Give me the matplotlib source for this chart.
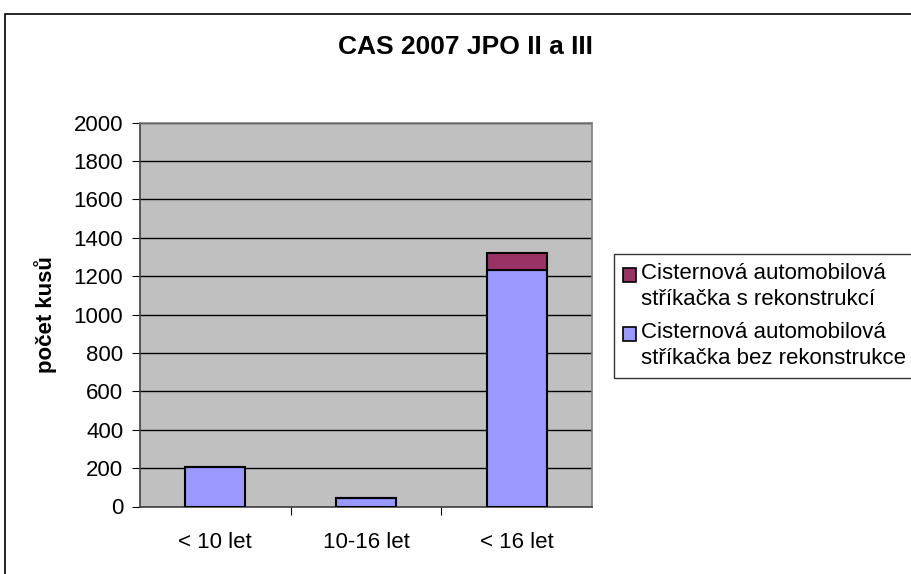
import matplotlib
matplotlib.use("Agg")
import matplotlib.pyplot as plt
from matplotlib.patches import Rectangle
import numpy as np

categories = ["< 10 let", "10-16 let", "< 16 let"]
bez_rekonstrukce = [205, 42, 1230]
s_rekonstrukci = [0, 0, 90]
series_labels = ["Cisternová automobilová\nstříkačka s rekonstrukcí",
                 "Cisternová automobilová\nstříkačka bez rekonstrukce"]
yticks = [0, 200, 400, 600, 800, 1000, 1200, 1400, 1600, 1800, 2000]
title = "CAS 2007 JPO II a III"
ylabel = "počet kusů"

plt.rcParams['font.family'] = ['Liberation Sans', 'DejaVu Sans']

fig = plt.figure(figsize=(9.12, 5.74), dpi=100)
# outer chart border
fig.patches.append(Rectangle((5/912, -0.1), 1.2, (574-14)/574 + 0.1,
                             transform=fig.transFigure, fill=False,
                             edgecolor='black', linewidth=1.2))

ax = fig.add_axes([140/912, (574-506.5)/574, 452/912, 383.8/574])
ax.set_facecolor('#C0C0C0')
x = np.arange(len(categories))
ax.bar(x, bez_rekonstrukce, width=0.4, color='#9999FF', edgecolor='black',
       linewidth=1.5, zorder=3, label=series_labels[1])
ax.bar(x, s_rekonstrukci, width=0.4, bottom=bez_rekonstrukce, color='#993366',
       edgecolor='black', linewidth=1.5, zorder=3, label=series_labels[0])

ax.set_xlim(-0.5, 2.5)
ax.set_ylim(0, 2000)
ax.set_yticks(yticks)
ax.set_yticklabels([str(v) for v in yticks], fontsize=16)
ax.yaxis.grid(True, color='black', linewidth=1.0, zorder=1)
ax.set_xticks([0.5, 1.5], minor=False)
ax.set_xticklabels([])
ax.set_xticks(x, minor=True)
ax.set_xticklabels(categories, minor=True, fontsize=16)
ax.tick_params(axis='x', which='minor', length=0, pad=18)
ax.tick_params(axis='x', which='major', length=6, direction='out', color='black')
ax.tick_params(axis='y', length=6, direction='out', pad=6)
for s in ['top', 'right']:
    ax.spines[s].set_color('#808080')
    ax.spines[s].set_linewidth(1.2)
for s in ['left', 'bottom']:
    ax.spines[s].set_color('#404040')
    ax.spines[s].set_linewidth(1.2)

ax.set_ylabel(ylabel, fontsize=16, fontweight='bold', labelpad=12)
fig.text(465/912, 1 - 47/574, title, ha='center', va='center',
         fontsize=19, fontweight='bold')

handles, labels = ax.get_legend_handles_labels()
leg = fig.legend(handles[::-1], labels[::-1], loc='upper left',
                 bbox_to_anchor=(614/912, 1 - 254/574),
                 fontsize=16, frameon=True, fancybox=False,
                 edgecolor='black', handlelength=0.6, handleheight=0.6,
                 handletextpad=0.2, borderpad=0.4, labelspacing=0.55,
                 borderaxespad=0)
leg.get_frame().set_linewidth(1.0)
for t in leg.get_texts():
    t.set_linespacing(1.3)
for h in leg.legend_handles:
    h.set_linewidth(1.2)
    h.set_y(h.get_y() + 8.5)

fig.savefig('out.png', dpi=100)
